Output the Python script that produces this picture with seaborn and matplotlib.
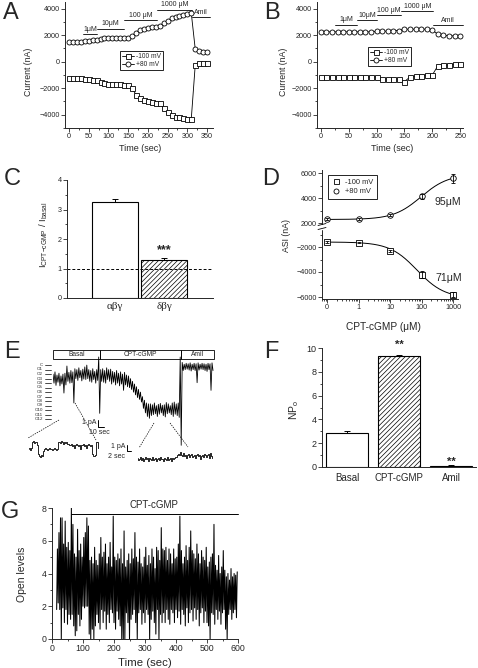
import numpy as np
import matplotlib
matplotlib.use('Agg')
from matplotlib import pyplot as plt
from matplotlib.lines import Line2D
from matplotlib.patches import Rectangle
from matplotlib.ticker import MultipleLocator, FixedLocator, LogLocator, NullFormatter
import seaborn as sns

# ---------------- values ----------------
# A: current at -100 / +80 mV during CPT-cGMP dose steps
A_time = np.arange(0, 360, 10)
A_neg = [-1250, -1250, -1250, -1250, -1300, -1300, -1350, -1400, -1550, -1600, -1650, -1700,
         -1700, -1700, -1750, -1750, -2000, -2500, -2750, -2900, -3000, -3050, -3100, -3150,
         -3500, -3800, -4000, -4150, -4200, -4250, -4300, -4300,
         -250, -100, -100, -100]
A_pos = [1500, 1500, 1500, 1500, 1550, 1550, 1600, 1600, 1700, 1750, 1750, 1750,
         1750, 1750, 1750, 1800, 1950, 2200, 2400, 2500, 2550, 2600, 2650, 2700,
         2900, 3050, 3300, 3400, 3450, 3550, 3600, 3650,
         950, 800, 750, 700]
A_steps = ['1μM', '10μM', '100 μM', '1000 μM', 'Amil']
A_step_on = [35, 72, 140, 224, 313]
A_step_off = [72, 140, 224, 313, 357]

# B: same protocol, second cell
B_time = np.arange(0, 260, 10)
B_neg = [-1150] * 11 + [-1300, -1300, -1300, -1300, -1500,
                        -1150, -1100, -1050, -1000, -1000,
                        -300, -250, -250, -200, -200]
B_pos = [2250] * 10 + [2300, 2300, 2300, 2350, 2350,
                       2450, 2450, 2450, 2450, 2450, 2400,
                       2050, 2000, 1950, 1950, 1900]
B_steps = ['1μM', '10μM', '100 μM', '1000 μM', 'Amil']
B_step_on = [26, 65, 101, 144, 202]
B_step_off = [65, 101, 144, 202, 255]

# C: stimulation ratio
C_groups = ['αβγ', 'δβγ']
C_ratio = [3.25, 1.28]
C_sem = [0.10, 0.07]

# D: dose response
D_conc = [0, 1, 10, 100, 1000]
D_neg = [-1600, -1650, -2300, -4200, -5800]
D_neg_sem = [60, 60, 80, 250, 200]
D_pos = [2300, 2350, 2650, 4150, 5600]
D_pos_sem = [80, 60, 80, 200, 350]
D_ec50_neg = 71
D_ec50_pos = 95

# E: single channel record, min / max level per 3 s bin (open levels, 0 = closed)
E_lo = [2.0, 1.5, 2.2, 1.8, 2.4, 2.0, 1.8, 0.2, 1.6, 1.2, 1.5,
        0.8, 1.0, 0.6, 1.2, 0.9, 0.4, 0.0, 1.0, 1.2, 0.8, 1.4, 1.0, -1.8,
        1.0, 0.8, 1.2, 0.6, 1.0, 0.9, 1.4, 1.6, 1.2, 1.8, 1.5, 2.0, 1.6, 2.2, 2.4,
        3.0, 3.6, 4.2, 4.8, 5.4, 6.0, 7.0, 7.8, 8.4, 8.6,
        8.6, 8.8, 8.4, 9.0, 8.7, 8.5, 8.9, 8.8, 8.3, 8.6, 9.0, 8.4, 8.2, 8.6,
        8.4, -1.8,
        -0.6, -0.2, -0.4, -0.3, -0.5, -0.2, -0.4, -0.3, -0.5, -0.2, -0.4, -0.3, -0.2, -0.4, -0.3, -0.5]
E_hi = [4.0, 4.5, 3.8, 4.6, 4.2, 6.2, 4.4, 3.6, 4.0, 3.9, 8.4,
        3.0, 3.4, 2.8, 3.5, 3.1, 3.2, 3.0, 3.6, 3.8, 3.2, 4.0, 3.4, 10.7,
        3.6, 3.8, 4.0, 3.2, 3.6, 4.2, 3.8, 4.4, 4.0, 4.6, 4.2, 5.6, 4.4, 4.8, 5.0,
        5.4, 6.0, 6.6, 7.2, 7.6, 8.2, 9.6, 10.6, 11.4, 11.8,
        11.2, 11.0, 10.8, 11.4, 10.9, 10.6, 11.2, 11.5, 10.8, 10.6, 11.0, 11.4, 10.9, 11.2,
        11.6, 17.8,
        1.2, 1.0, 0.9, 1.1, 1.3, 1.0, 1.2, 3.9, 1.1, 0.9, 1.0, 1.2, 1.4, 1.0, 5.6, 1.2]
E_phases = ['Basal', 'CPT-cGMP', 'Amil']
E_phase_edges = [0, 70.5, 193.5, 243]
E_levels = ['C'] + ['O%d' % i for i in range(1, 13)]
# expanded stretches (basal / CPT-cGMP), one sample per point
E_left = [0, 0.2, -0.1, 0.1, 1.0, 1.2, 0.9, 1.1, 1.0, 0.6, -0.8, -1.1, -1.2, -0.9, -1.0, -0.3,
          0, 0.1, 0, -0.1, 0, 0.1, 0, 0, -0.1, 0, 0.1, 0, -0.1, 0,
          1.0, 1.1, 0.9, 1.2, 1.0, 0.8, 1.1, 0.9, 1.0, 0.7, 0.8, 0.6,
          0.6, 0.7, 0.5, 0.6, 0.1, 0.6, 0.7, 0.6, 0.5, 0.6, 0.0, 0.6, 0.6, 0.7, 0.5, 0.6,
          0.1, 0.6, 0.7, 0.6, 0.5, 0.6, -0.8, -1.1, -1.0, -0.9, 1.0, 1.1, 0.1]
E_right = [0.2, -0.3, 0.1, 0.4, -0.2, 0.3, -0.4, 0.0, 0.5, -0.1, 0.3, -0.5, 0.2, 0.0, -0.3,
           0.4, -0.2, 0.1, 0.3, -0.4, 0.0, 0.2, -0.3, 0.5, -0.1, 0.1, -0.5, 0.3, 0.0, -0.2,
           0.4, -0.3, 0.1, 0.2, -0.4, 0.3, 0.0, 0.2, 0.5, 0.4,
           0.8, 1.2, 0.9, 1.5, 1.0, 0.7, 1.3, 0.6, 0.9, 0.2, 0.8, 1.1, 0.5, 0.9, 1.2, 0.4,
           0.7, 1.0, 0.3, 0.8, 1.1, 0.6, 0.9, 0.0, 0.7, 1.0, 0.5, 1.2, 0.8, 0.4, 0.9, 1.1,
           0.3, 1.3, 0.6, 0.2]

# F: NPo
F_groups = ['Basal', 'CPT-cGMP', 'Amil']
F_npo = [2.85, 9.35, 0.10]
F_sem = [0.20, 0.10, 0.03]

# G: open levels over time, min / max per 5 s bin
G_time = np.arange(15, 600, 5)
G_hi = [5.5, 6.5, 7.4, 7.4, 5.8, 7.2, 5.6, 5.9, 5.4, 8.0,
        7.0, 5.2, 5.0, 6.7, 5.4, 5.8, 5.0, 6.2, 6.5, 7.4,
        6.9, 4.8, 5.0, 4.6, 5.6, 4.8, 4.5, 5.2, 6.2, 5.0,
        5.3, 5.8, 4.6, 5.0, 5.9, 4.4, 7.5, 5.0, 4.8, 5.2,
        4.9, 5.5, 4.6, 6.6, 4.4, 4.8, 5.2, 4.6, 5.5, 4.9,
        6.5, 5.0, 4.7, 5.5, 4.6, 4.4, 5.0, 5.6, 4.5, 5.1,
        4.6, 5.5, 5.0, 4.3, 5.6, 5.4, 4.8, 6.8, 5.5, 5.4,
        5.6, 4.8, 5.5, 5.2, 4.6, 5.5, 4.9, 5.0, 5.8, 7.5,
        5.4, 4.6, 5.0, 5.7, 4.8, 5.6, 6.6, 5.4, 5.2, 4.9,
        5.8, 5.2, 4.6, 5.4, 5.0, 4.8, 5.6, 4.4, 4.7, 5.0,
        5.2, 7.0, 4.5, 4.2, 5.1, 4.0, 4.4, 5.4, 4.2, 3.8,
        4.0, 3.6, 4.3, 3.8, 4.0, 3.9, 4.1]
G_lo = [1.8, 2.2, 1.8, 0.0, 1.9, 1.0, 1.8, 0.9, 1.5, 1.2,
        1.5, 0.8, 0.2, 0.5, 1.5, 0.8, 1.2, 2.0, 1.9, 2.0,
        2.0, 0.3, 0.0, 0.6, 0.0, 0.8, 1.5, 1.0, 0.6, 1.8,
        1.0, 1.7, 0.6, 1.5, 1.0, 1.8, 1.6, 1.0, 0.6, 1.7,
        1.2, 0.8, 0.0, 0.0, 0.0, 1.6, 1.0, 0.0, 1.2, 1.5,
        1.8, 1.0, 0.0, 1.6, 1.8, 0.9, 1.6, 1.0, 1.8, 1.5,
        0.0, 1.2, 1.7, 1.0, 0.3, 1.8, 0.0, 1.5, 1.0, 1.6,
        1.0, 1.8, 1.2, 0.9, 1.8, 1.6, 1.0, 1.8, 1.3, 1.7,
        0.9, 1.8, 1.5, 0.8, 1.9, 1.0, 1.6, 1.8, 1.1, 1.9,
        1.2, 1.8, 0.8, 1.6, 1.9, 1.0, 1.7, 1.0, 0.8, 0.0,
        1.6, 1.5, 0.9, 1.8, 1.2, 1.7, 0.9, 1.6, 1.8, 0.6,
        0.0, 1.5, 1.8, 1.2, 1.6, 1.8, 1.3]
G_drug_on = 62

# ---------------- figure ----------------
W, H = 478, 668
sns.set_style('ticks')
plt.rcParams['font.family'] = ['Liberation Sans', 'DejaVu Sans']
plt.rcParams['hatch.linewidth'] = 0.5
plt.rcParams['axes.linewidth'] = 0.7

fig = plt.figure(figsize=(W / 100, H / 100), dpi=100)


def px_axes(l, t, r, b):
    return fig.add_axes([l / W, 1 - b / H, (r - l) / W, (b - t) / H])


def style(ax, fs=5.2):
    sns.despine(ax=ax)
    ax.tick_params(which='both', direction='out', width=0.6, labelsize=fs, pad=1.2)
    ax.tick_params(which='major', length=2.6)
    ax.tick_params(which='minor', length=1.5)


def zigzag(t, lo, hi, half):
    tt = np.column_stack([t, np.asarray(t) + half]).ravel()
    yy = np.column_stack([lo, hi]).ravel()
    return tt, yy


mk = dict(color='black', lw=0.6, ms=3.6, mfc='white', mec='black', mew=0.6)


def current_panel(ax, t, neg, pos, steps, on, off, ys, xlim, xstep):
    sns.lineplot(x=t, y=neg, ax=ax, estimator=None, sort=False, marker='s', **mk)
    sns.lineplot(x=t, y=pos, ax=ax, estimator=None, sort=False, marker='o', **mk)
    for a, b, y, lab in zip(on, off, ys, steps):
        ax.plot([a, b], [y, y], color='black', lw=0.6, clip_on=False)
        ax.text((a + b) / 2, y + 110, lab, ha='center', va='bottom', fontsize=5)
    ax.set_xlim(*xlim)
    ax.set_ylim(-5000, 4500)
    ax.xaxis.set_major_locator(MultipleLocator(xstep))
    ax.xaxis.set_minor_locator(MultipleLocator(xstep / 2))
    ax.yaxis.set_major_locator(FixedLocator([-4000, -2000, 0, 2000, 4000]))
    ax.yaxis.set_minor_locator(MultipleLocator(1000))
    style(ax)
    ax.set_xlabel('Time (sec)', fontsize=6.5)
    ax.set_ylabel('Current (nA)', fontsize=6.3)
    hnd = [Line2D([], [], marker='s', **mk), Line2D([], [], marker='o', **mk)]
    return hnd


# ---- A ----
axA = px_axes(65, 2, 213, 128)
h = current_panel(axA, A_time, A_neg, A_pos, A_steps, A_step_on, A_step_off,
                  [2050, 2470, 3110, 3920, 3370], (-10, 365), 50)
axA.xaxis.set_label_coords(0.507, -0.125)
axA.yaxis.set_label_coords(-0.216, 0.444)
leg = axA.legend(h, ['-100 mV', '+80 mV'], loc='upper left', bbox_to_anchor=(0.37, 0.61),
                 fontsize=4.8, fancybox=False, edgecolor='black', framealpha=1, handlelength=1.8,
                 borderpad=0.3, labelspacing=0.2, handletextpad=0.3, borderaxespad=0)
leg.get_frame().set_linewidth(0.6)

# ---- B ----
axB = px_axes(317, 2, 463, 128)
h = current_panel(axB, B_time, B_neg, B_pos, B_steps, B_step_on, B_step_off,
                  [2780, 3110, 3490, 3800, 2730], (-7, 255), 50)
axB.xaxis.set_label_coords(0.514, -0.125)
axB.yaxis.set_label_coords(-0.199, 0.444)
leg = axB.legend(h, ['-100 mV', '+80 mV'], loc='upper left', bbox_to_anchor=(0.35, 0.643),
                 fontsize=4.8, fancybox=False, edgecolor='black', framealpha=1, handlelength=1.8,
                 borderpad=0.3, labelspacing=0.2, handletextpad=0.3, borderaxespad=0)
leg.get_frame().set_linewidth(0.6)

# ---- C ----
axC = px_axes(67, 180, 213, 298)
sns.barplot(x=C_groups, y=C_ratio, ax=axC, color='white', edgecolor='black', linewidth=0.8,
            width=0.94, saturation=1, errorbar=None)
axC.patches[1].set_hatch('///////')
axC.errorbar([0, 1], C_ratio, yerr=[[0, 0], C_sem], fmt='none', ecolor='black',
             elinewidth=0.7, capsize=2, capthick=0.7)
axC.axhline(1, ls=(0, (3, 2)), color='black', lw=0.7)
axC.text(1, 1.62, '***', ha='center', va='center', fontsize=9, fontweight='bold')
axC.set_xlim(-0.98, 2.0)
axC.set_ylim(0, 4)
axC.yaxis.set_major_locator(MultipleLocator(1))
axC.yaxis.set_minor_locator(MultipleLocator(0.5))
style(axC)
axC.tick_params(axis='x', length=0, pad=3)
axC.set_xticks([0, 1])
axC.set_xticklabels(C_groups, fontsize=8, family=['Liberation Serif', 'DejaVu Serif'])
axC.set_ylabel(r'I$_\mathregular{CPT{-}cGMP}$ / I$_\mathregular{basal}$', fontsize=6.8)
axC.yaxis.set_label_coords(-0.116, 0.538)

# ---- D (broken y axis) ----
axDt = px_axes(322, 170, 458, 227)
axDb = px_axes(322, 227, 458, 299)
Dx = [0.1 if c == 0 else c for c in D_conc]
xc = np.logspace(-1, 3.04, 200)
for ax, vals, sem, ec50, m in [(axDt, D_pos, D_pos_sem, D_ec50_pos, 'o'),
                              (axDb, D_neg, D_neg_sem, D_ec50_neg, 's')]:
    top = vals[0] + (vals[-1] - vals[0]) * (1000 + ec50) / 1000
    fit = vals[0] + (top - vals[0]) * xc / (xc + ec50)
    sns.lineplot(x=xc, y=fit, ax=ax, color='black', lw=0.7, estimator=None)
    sns.scatterplot(x=Dx, y=vals, ax=ax, marker=m, s=16, facecolor='white',
                    edgecolor='black', linewidth=0.6, zorder=3)
    ax.errorbar(Dx, vals, yerr=sem, fmt='none', ecolor='black', elinewidth=0.6,
                capsize=1.5, capthick=0.6, zorder=4)
    ax.set_xscale('log')
    ax.set_xlim(10 ** -1.16, 10 ** 3.15)
    style(ax, 5.2)
    ax.yaxis.set_minor_locator(MultipleLocator(1000))
axDt.set_ylim(1700, 6250)
axDt.yaxis.set_major_locator(FixedLocator([2000, 4000, 6000]))
axDt.spines['bottom'].set_visible(False)
axDt.tick_params(axis='x', which='both', bottom=False, labelbottom=False)
axDb.set_ylim(-6160, -400)
axDb.yaxis.set_major_locator(FixedLocator([-6000, -4000, -2000]))
axDb.xaxis.set_major_locator(FixedLocator(Dx))
axDb.set_xticklabels([str(c) for c in D_conc])
axDb.xaxis.set_minor_locator(LogLocator(base=10, subs=np.arange(2, 10)))
axDb.xaxis.set_minor_formatter(NullFormatter())
axDb.set_xlabel('CPT-cGMP (μM)', fontsize=7.3)
axDb.xaxis.set_label_coords(0.449, -0.32)
hD = [Line2D([], [], ls='none', marker='s', ms=3.6, mfc='white', mec='black', mew=0.6),
      Line2D([], [], ls='none', marker='o', ms=3.6, mfc='white', mec='black', mew=0.6)]
leg = axDt.legend(hD, ['-100 mV', '+80 mV'], loc='upper left', bbox_to_anchor=(0.044, 0.912),
                  fontsize=5.4, fancybox=False, edgecolor='black', framealpha=1, handlelength=1.2,
                  borderpad=0.5, labelspacing=0.25, handletextpad=0.6, borderaxespad=0)
leg.get_frame().set_linewidth(0.6)
axDt.text(10 ** 2.42, 3700, '%dμM' % D_ec50_pos, ha='left', va='center', fontsize=7.6)
axDb.text(10 ** 2.42, -4450, '%dμM' % D_ec50_neg, ha='left', va='center', fontsize=7.6)

# ---- E ----
axE = px_axes(53, 348, 214, 448)
tt, yy = zigzag(np.arange(len(E_lo)) * 3.0, E_lo, E_hi, 1.5)
sns.lineplot(x=tt, y=yy, ax=axE, estimator=None, sort=False, color='black', lw=0.6)
axE.set_xlim(0, 243)
axE.set_ylim(18.4, -3.8)
axE.axis('off')
for i, (a, b) in enumerate(zip(E_phase_edges[:-1], E_phase_edges[1:])):
    axE.add_patch(Rectangle((a, -3.3), b - a, 2.0, fill=False, lw=0.6, ec='black', clip_on=False))
    axE.text((a + b) / 2, -2.3, E_phases[i], ha='center', va='center', fontsize=4.8)

axEl = px_axes(28, 436, 99, 462)
sns.lineplot(x=np.arange(len(E_left)), y=E_left, ax=axEl, estimator=None, color='black',
             lw=0.6, drawstyle='steps-mid')
axEl.set_ylim(-1.95, 1.95)
axEl.set_xlim(-0.5, len(E_left) - 0.5)
axEl.axis('off')

axEr = px_axes(137, 446, 213, 472)
sns.lineplot(x=np.arange(len(E_right)), y=E_right, ax=axEr, estimator=None, color='black',
             lw=0.6, drawstyle='steps-mid')
axEr.set_ylim(-2.9, 2.9)
axEr.set_xlim(-0.5, len(E_right) - 0.5)
axEr.axis('off')

# ---- F ----
axF = px_axes(322, 348, 476, 467)
sns.barplot(x=F_groups, y=F_npo, ax=axF, color='white', edgecolor='black', linewidth=0.8,
            width=0.81, saturation=1, errorbar=None)
axF.patches[1].set_hatch('///////')
axF.errorbar([0, 1, 2], F_npo, yerr=[[0, 0, 0], F_sem], fmt='none', ecolor='black',
             elinewidth=0.7, capsize=2, capthick=0.7)
axF.text(1, 10.3, '**', ha='center', va='center', fontsize=8, fontweight='bold')
axF.text(2, 0.45, '**', ha='center', va='center', fontsize=8, fontweight='bold')
axF.set_xlim(-0.48, 2.48)
axF.set_ylim(0, 10)
axF.yaxis.set_major_locator(MultipleLocator(2))
axF.yaxis.set_minor_locator(MultipleLocator(1))
style(axF, 6.5)
axF.tick_params(axis='x', length=0, labelsize=7, pad=4)
axF.set_ylabel(r'NP$_\mathregular{o}$', fontsize=7.5)
axF.yaxis.set_label_coords(-0.136, 0.48)

# ---- G ----
axG = px_axes(52, 508, 238, 639)
tt, yy = zigzag(G_time, G_lo, G_hi, 2.5)
sns.lineplot(x=tt, y=yy, ax=axG, estimator=None, sort=False, color='black', lw=0.75)
axG.plot([G_drug_on, 600], [7.65, 7.65], color='black', lw=0.7, clip_on=False)
axG.text(330, 7.85, 'CPT-cGMP', ha='center', va='bottom', fontsize=7)
axG.set_xlim(0, 600)
axG.set_ylim(0, 8)
axG.xaxis.set_major_locator(MultipleLocator(100))
axG.xaxis.set_minor_locator(MultipleLocator(50))
axG.yaxis.set_major_locator(MultipleLocator(2))
axG.yaxis.set_minor_locator(MultipleLocator(1))
style(axG, 6.3)
axG.set_xlabel('Time (sec)', fontsize=8.2)
axG.set_ylabel('Open levels', fontsize=7.5)
axG.xaxis.set_label_coords(0.5, -0.145)
axG.yaxis.set_label_coords(-0.134, 0.49)

# ---------------- annotation overlay in pixel units ----------------
ov = fig.add_axes([0, 0, 1, 1], zorder=10)
ov.set_xlim(0, W)
ov.set_ylim(H, 0)
ov.axis('off')

for lab, x, y in [('A', 3, 2), ('B', 264, 2), ('C', 4, 168), ('D', 262, 168),
                  ('E', 4, 341), ('F', 264, 341), ('G', 1, 501)]:
    ov.text(x, y, lab, fontsize=17, ha='left', va='top')

# D: y label and axis break
ov.text(287, 236, 'ASI (nA)', rotation=90, fontsize=6.3, ha='center', va='center')
ov.add_patch(Rectangle((318, 224.5), 8, 4, color='white', zorder=5))
for y0 in (224.5, 228.5):
    ov.plot([318, 326], [y0 + 1, y0 - 1], color='black', lw=0.6, zorder=6)

# E: level ladder, scale bars, expansion guides
for i, lab in enumerate(E_levels):
    y = 365 + 4.5 * i
    ov.plot([45, 51], [y, y], color='black', lw=0.5)
    ov.text(43, y, lab, fontsize=3.2, ha='right', va='center')
ov.plot([98, 98, 104], [420, 427, 427], color='black', lw=0.7)
ov.text(96, 422, '1 pA', fontsize=5, ha='right', va='center')
ov.text(99, 433, '10 sec', fontsize=5, ha='center', va='center')
ov.plot([127, 127, 131], [445, 451, 451], color='black', lw=0.7)
ov.text(125, 447, '1 pA', fontsize=5, ha='right', va='center')
ov.text(125, 456, '2 sec', fontsize=5, ha='right', va='center')
for (x0, y0), (x1, y1) in [((59, 420), (28, 438)), ((75, 403), (96, 440)),
                           ((154, 423), (139, 448)), ((170, 423), (188, 447))]:
    ov.plot([x0, x1], [y0, y1], color='black', lw=0.5, ls=(0, (2, 1.5)))

fig.savefig('out.png', dpi=100)
